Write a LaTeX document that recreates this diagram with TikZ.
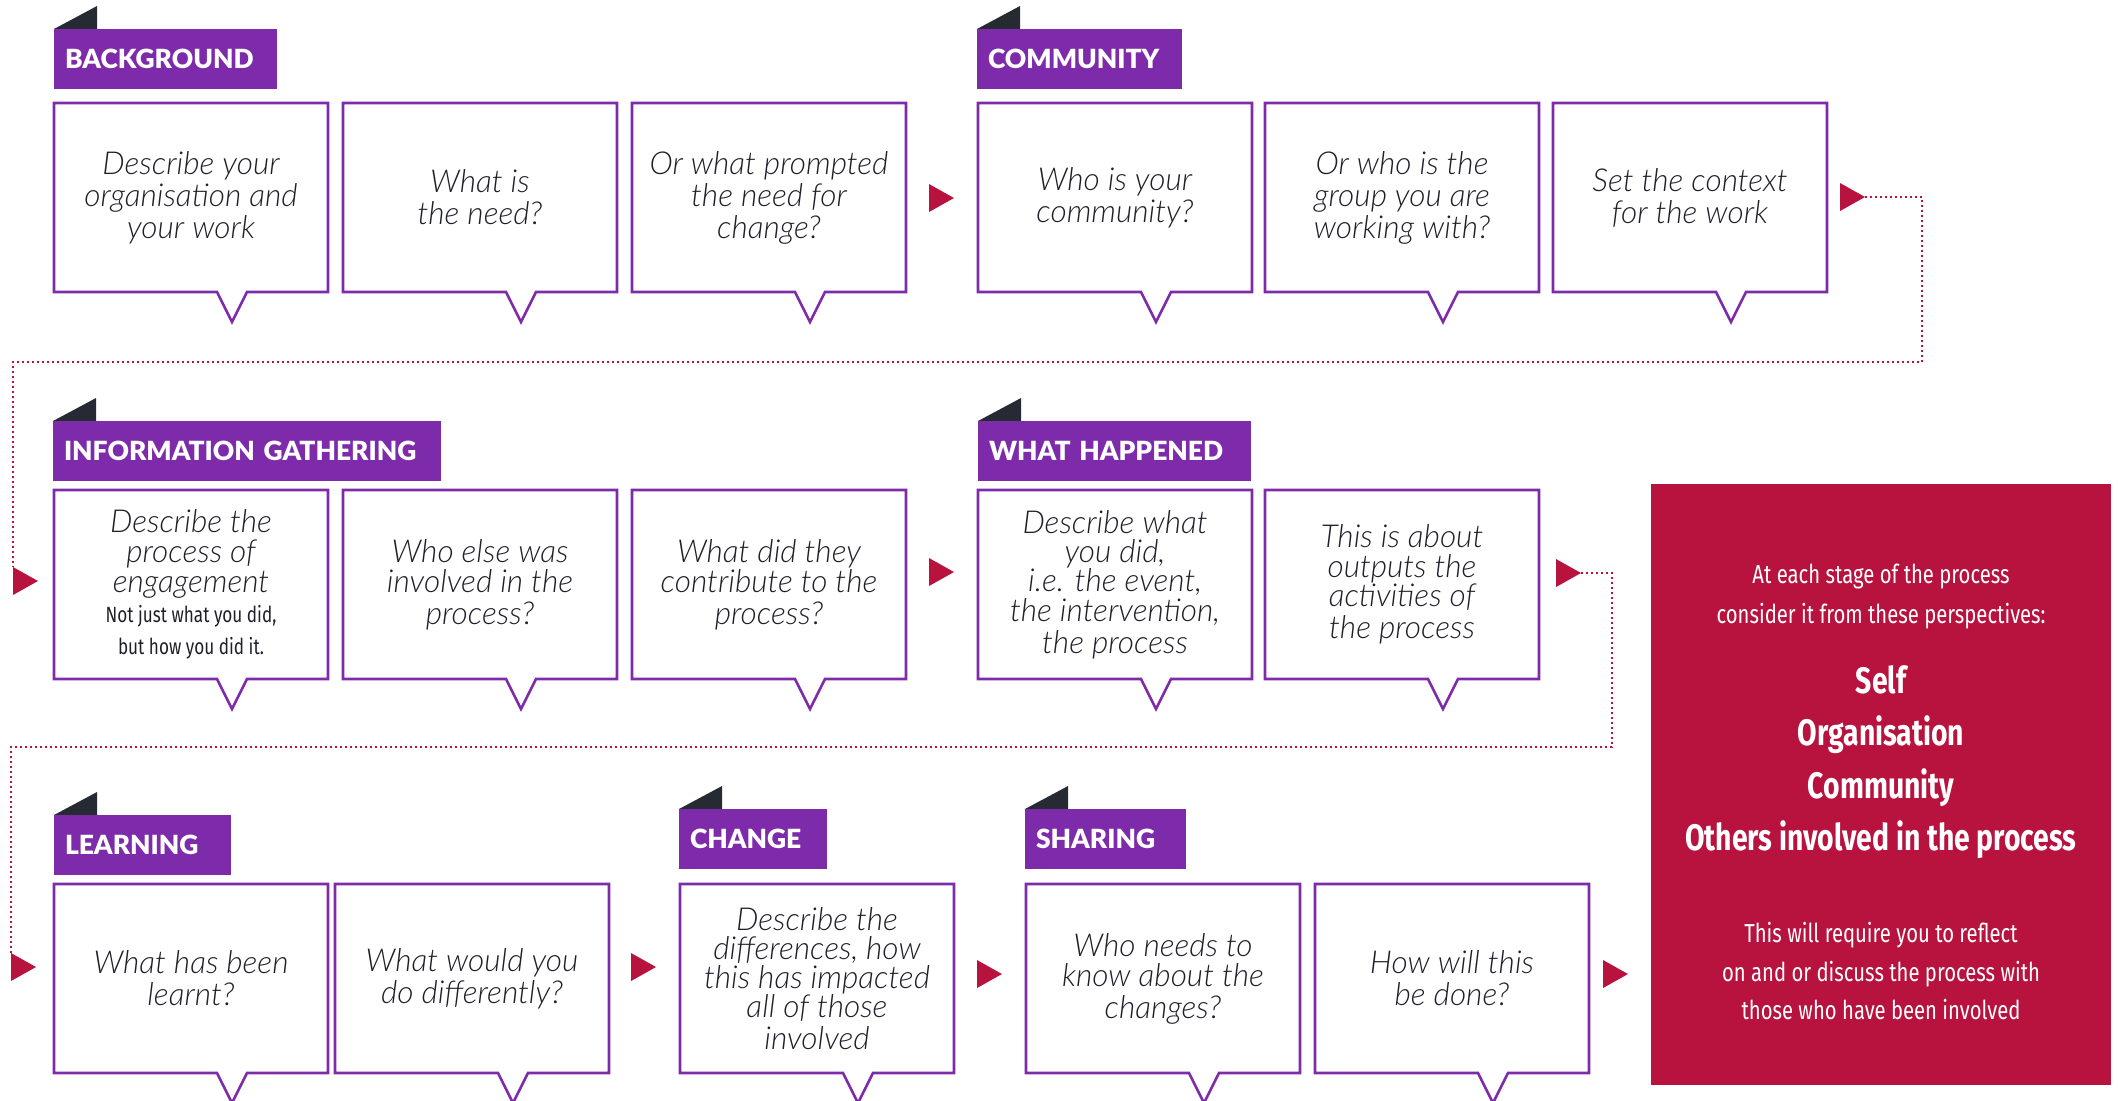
\documentclass[tikz,border=0pt]{standalone}
\usepackage{fontspec}
\setmainfont{Lato}
\IfFontExistsTF{Lato Light Italic}{\newfontfamily\qfont{Lato Light Italic}}{\newfontfamily\qfont{Lato Italic}}
\IfFontExistsTF{Lato Black}{\newfontfamily\tfont{Lato Black}}{\newfontfamily\tfont{Lato}[UprightFont=*-Bold]}
\newfontfamily\cfont{Fira Sans}[FakeStretch=0.78]
\newfontfamily\cfontb{Fira Sans}[FakeStretch=0.77]
\definecolor{qpurple}{HTML}{7E2BAA}
\definecolor{tabpurple}{HTML}{7D2BAA}
\definecolor{tabdark}{HTML}{262B33}
\definecolor{crimson}{HTML}{B8133E}
\definecolor{qink}{HTML}{1F1F29}
\tikzset{
  qtext/.style={inner sep=0pt, outer sep=0pt, minimum width=137pt, minimum height=94.5pt,
    text width=134pt, align=flush center, font=\qfont\fontsize{15.8}{16}\selectfont, text=qink},
  qline/.style={draw=qpurple, line width=1.3pt, line join=miter},
  tabnode/.style={fill=tabpurple, text=white, inner xsep=5.5pt, inner ysep=0pt, outer sep=0pt,
    minimum height=30pt, anchor=north west, align=left, font=\tfont\fontsize{13.2}{14}\selectfont},
  ptext/.style={text=white, align=center, inner sep=0pt},
  dotline/.style={draw=crimson, line width=1pt, dash pattern=on 0.9pt off 1.6pt},
}
\newcommand\qbox[4]{%
  \node[qtext, anchor=north west] (#1) at (#2,#3) {#4};
  \draw[qline] ([xshift=96.5pt]#1.south west) -- (#1.south east) -- (#1.north east)
    -- (#1.north west) -- (#1.south west) -- ([xshift=81.5pt]#1.south west)
    -- ([xshift=89pt,yshift=-15pt]#1.south west) -- cycle;
}
\newcommand\stagetab[5]{%
  \fill[tabdark] (#2,#3) -- ++(43,0) -- ++(0,-23) -- cycle;
  \node[tabnode, text width=#4pt] (#1) at (#2,#3) {#5};
}
\newcommand\redarrow[3]{%
  \coordinate (#1-top) at (#2,#3-14);
  \coordinate (#1-tip) at (#2+25,#3);
  \fill[crimson] (#1-top) -- (#1-tip) -- (#2,#3+14) -- cycle;
}
\begin{document}
\begin{tikzpicture}[x=0.5pt,y=-0.5pt]
\useasboundingbox (0,0) rectangle (2118,1100);
% Row 1
\stagetab{tback}{54}{29}{100.5}{BACKGROUND}
\stagetab{tcomm}{977}{29}{91.5}{COMMUNITY}
\qbox{b11}{54}{103}{Describe your\\organisation and\\your work}
\qbox{b12}{343}{103}{What is\\the need?}
\qbox{b13}{632}{103}{Or what prompted\\the need for\\change?}
\redarrow{a1}{929}{198}
\qbox{b14}{978}{103}{Who is your\\community?}
\qbox{b15}{1265}{103}{Or who is the\\group you are\\working with?}
\qbox{b16}{1553}{103}{Set the context\\for the work}
\redarrow{a2}{1840}{197}
% Row 2
\stagetab{tinfo}{53}{421}{183}{INFORMATION GATHERING}
\stagetab{twhat}{978}{421}{125.5}{WHAT HAPPENED}
\redarrow{a3}{13}{581}
\qbox{b21}{54}{490}{\fontsize{15.8}{15}\selectfont Describe the\\process of\\engagement\\{\cfont\fontsize{11}{15}\selectfont Not just what you did,}\\{\cfont\fontsize{11}{15}\selectfont but how you did it.}}
\qbox{b22}{343}{490}{\fontsize{15.8}{15}\selectfont Who else was\\involved in the\\process?}
\qbox{b23}{632}{490}{\fontsize{15.8}{15}\selectfont What did they\\contribute to the\\process?}
\redarrow{a4}{929}{572}
\qbox{b24}{978}{490}{\fontsize{15.8}{14.6}\selectfont Describe what\\you did,\\i.e. the event,\\the intervention,\\the process}
\qbox{b25}{1265}{490}{\fontsize{15.8}{14.8}\selectfont This is about\\outputs the\\activities of\\the process}
\redarrow{a5}{1556}{573}
% Row 3
\stagetab{tlearn}{54}{815}{77.5}{LEARNING}
\stagetab{tchange}{679}{809}{63}{CHANGE}
\stagetab{tshare}{1025}{809}{69.5}{SHARING}
\redarrow{a6}{11}{967}
\qbox{b31}{54}{884}{\fontsize{15.8}{15}\selectfont What has been\\learnt?}
\qbox{b32}{335}{884}{\fontsize{15.8}{15}\selectfont What would you\\do differently?}
\redarrow{a7}{631}{967}
\qbox{b33}{680}{884}{\fontsize{15.8}{14.4}\selectfont Describe the\\differences, how\\this has impacted\\all of those\\involved}
\redarrow{a8}{977}{974}
\qbox{b34}{1026}{884}{\fontsize{15.8}{15}\selectfont Who needs to\\know about the\\changes?}
\qbox{b35}{1315}{884}{\fontsize{15.8}{15}\selectfont How will this\\be done?}
\redarrow{a9}{1603}{974}
% Perspectives panel
\node[fill=crimson, anchor=north west, minimum width=230pt, minimum height=300.5pt, inner sep=0pt, outer sep=0pt] (persp) at (1651,484) {};
\node[ptext, font=\cfont\fontsize{13}{20}\selectfont] (pintro) at (1881,596) {At each stage of the process\\consider it from these perspectives:};
\node[ptext, font=\cfontb\bfseries\fontsize{18.4}{26.3}\selectfont] (plist) at (1881,762) {Self\\Organisation\\Community\\Others involved in the process};
\node[ptext, font=\cfont\fontsize{13}{19.3}\selectfont] (pnote) at (1881,971) {This will require you to reflect\\on and or discuss the process with\\those who have been involved};
% Dotted connectors
\coordinate (turn1) at (1922,362);
\draw[dotline] (a2-tip) -| (turn1) -- (turn1 -| a3-top) -- (a3-top);
\coordinate (turn2) at (1612,747);
\draw[dotline] (a5-tip) -| (turn2) -- (turn2 -| a6-top) -- (a6-top);
\end{tikzpicture}
\end{document}
